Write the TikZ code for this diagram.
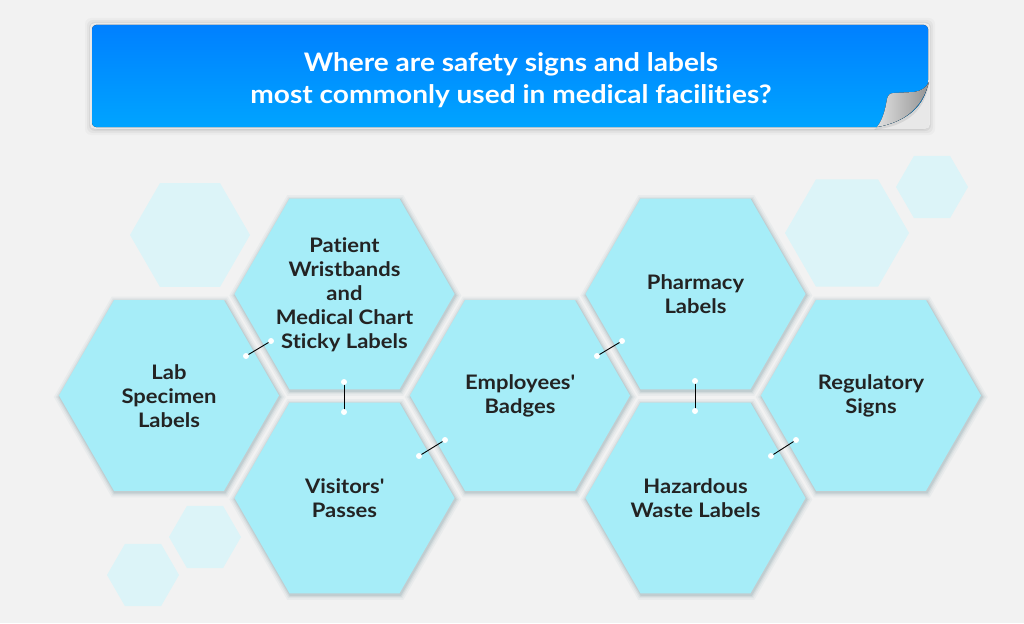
\documentclass[tikz,border=0pt]{standalone}
\usepackage{fontspec}
\setmainfont{Lato}[Ligatures={TeX,NoCommon}, FakeStretch=1.1]
\definecolor{sfondo}{HTML}{F2F2F2}
\definecolor{ciano}{HTML}{A6EDF8}
\definecolor{cianochiaro}{HTML}{DCF4F8}
\definecolor{bluA}{HTML}{0080FF}
\definecolor{bluB}{HTML}{00A4FF}
\definecolor{inchiostro}{HTML}{232323}
\definecolor{ombracella}{HTML}{4F7A84}
\begin{document}
\begin{tikzpicture}[x=1pt, y=-1pt,
	cella/.style={fill=ciano},
	cellafondo/.style={fill=cianochiaro},
	ombra/.style={fill=ombracella, fill opacity=#1},
	testo/.style={font=\fontsize{20}{24}\selectfont\bfseries, text=inchiostro, align=center},
	titolo/.style={font=\fontsize{25.5}{32}\selectfont\bfseries, text=white, align=center},
	giunto/.style={line width=0.9pt, black, line cap=round},
	pallino/.style={circle, fill=white, inner sep=0pt, minimum size=6pt},
	]
	
	\newcommand{\esagono}[3]{%
		\path[#3, shift={(#1)}] (0:#2)--(60:#2)--(120:#2)--(180:#2)--(240:#2)--(300:#2)--cycle;}
	
	%% celle: nome / centro / testo
	\def\celle{lab/169/395.5/{Lab\\Specimen\\Labels},
		paz/344.5/294/{Patient\\Wristbands\\and\\Medical Chart\\Sticky Labels},
		vis/344.5/498/{Visitors\textquotesingle\\Passes},
		dip/520/395.5/{Employees\textquotesingle\\Badges},
		far/695.5/294/{Pharmacy\\Labels},
		rif/695.5/498/{Hazardous\\Waste Labels},
		reg/871/395.5/{Regulatory\\Signs}}
	
	%% sfondo
	\fill[sfondo] (0,0) rectangle (1024,623);
	\useasboundingbox (0,0) rectangle (1024,623);
	
	%% =========================================================
	%% TITOLO CON ANGOLO PIEGATO
	%% =========================================================
	\foreach \d/\o in {7/0.025, 5/0.035, 3/0.05, 1.5/0.07}
	\fill[black, opacity=\o, rounded corners=6] (92-\d,25-\d) rectangle (928+\d,127+\d+1);
	\fill[white, opacity=0.6, rounded corners=5] (90,23) rectangle (930,129);
	\fill[top color=bluA, bottom color=bluB, rounded corners=4]
	(92,25) -- (928,25) -- (928,84) [sharp corners]
	.. controls (922,108) and (905,122) .. (877,127) [rounded corners=4] -- (92,127) -- cycle;
	%% piega
	\fill[black, opacity=0.08] (929,84) .. controls (924,112) and (906,126) .. (874,130)
	-- (877,127) .. controls (905,122) and (922,108) .. (929,82) -- cycle;
	\fill[left color=white!75!gray, right color=gray!85]
	(929,82) .. controls (922,108) and (905,122) .. (877,127)
	.. controls (884,118) and (886,105) .. (887,99)
	.. controls (888,95) and (890,93) .. (894,93)
	-- (914,92) .. controls (921,91) and (926,88) .. (929,82) -- cycle;
	\node[titolo] (titolo) at (511,80)
	{Where are safety signs and labels\\most commonly used in medical facilities?};
	
	%% =========================================================
	%% ESAGONI DI FONDO
	%% =========================================================
	\foreach \cx/\cy/\r in {190/235/60, 205/537/36, 143/575/36, 847/233/62, 932/187/36}
	\esagono{\cx,\cy}{\r}{cellafondo};
	
	%% =========================================================
	%% ESAGONI PRINCIPALI
	%% =========================================================
	%% ombre
	\foreach \nome/\cx/\cy/\txt in \celle{
		\foreach \r/\o in {116/0.05, 114/0.07, 112.5/0.09, 111.2/0.12}
		\esagono{\cx+0.8,\cy+1.5}{\r}{ombra=\o};}
	%% celle e testi
	\foreach \nome/\cx/\cy/\txt in \celle{
		\esagono{\cx,\cy}{110}{cella};
		\node[testo] (\nome) at (\cx,\cy+0.5) {\txt};}
	
	%% giunti fra le celle
	\foreach \i/\ax/\ay/\bx/\by in {1/246/356/271/341, 2/344/382/344/412,
		3/419/456/445/440, 4/597/356/622/341, 5/695/381/695/411, 6/771/456/796/440}{
		\coordinate (g\i-a) at (\ax,\ay);
		\coordinate (g\i-b) at (\bx,\by);
		\draw[giunto] (g\i-a) -- (g\i-b);
		\node[pallino] (p\i-a) at (g\i-a) {};
		\node[pallino] (p\i-b) at (g\i-b) {};}
	
\end{tikzpicture}
\end{document}
